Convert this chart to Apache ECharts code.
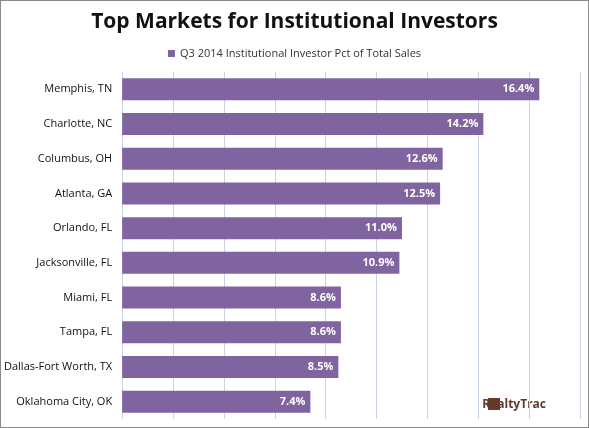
<!DOCTYPE html><html><head><meta charset="utf-8"><script src="https://cdn.jsdelivr.net/npm/echarts@6/dist/echarts.min.js"></script>
<style>html,body{margin:0;padding:0;background:#fff}#c{width:587px;height:426px;border:1px solid #8a8a8a}</style></head><body><div id="c"></div><script>
const categories=["Memphis, TN","Charlotte, NC","Columbus, OH","Atlanta, GA","Orlando, FL","Jacksonville, FL","Miami, FL","Tampa, FL","Dallas-Fort Worth, TX","Oklahoma City, OK"];
const values=[16.4,14.2,12.6,12.5,11.0,10.9,8.6,8.6,8.5,7.4];
const seriesName="Q3 2014 Institutional Investor Pct of Total Sales";
const c=echarts.init(document.getElementById('c'));
c.setOption({animation:false,
title:{text:"Top Markets for Institutional Investors",left:'center',top:6,textStyle:{fontFamily:'Open Sans',fontWeight:'bold',fontSize:21,color:'#111'}},
legend:{top:42,left:'center',itemWidth:7,itemHeight:7,icon:'rect',textStyle:{fontFamily:'Open Sans',fontSize:11,color:'#333'},data:[seriesName]},
grid:{left:121,right:8,top:71,bottom:8},
xAxis:{type:'value',min:0,max:18,interval:2,axisLabel:{show:false},axisLine:{show:false},axisTick:{show:false},splitLine:{lineStyle:{color:'#c9d3e6'}}},
yAxis:{type:'category',inverse:true,data:categories,axisTick:{show:false},axisLine:{show:false},axisLabel:{fontFamily:'Open Sans',fontSize:11,color:'#111',margin:10}},
series:[{name:seriesName,type:'bar',data:values,barWidth:22,itemStyle:{color:'#7f64a0'},label:{show:true,position:'insideRight',formatter:p=>p.value.toFixed(1)+'%',color:'#fff',fontWeight:'bold',fontFamily:'Open Sans',fontSize:11}}],
graphic:[{type:'rect',right:88,bottom:17,shape:{width:12,height:12},style:{fill:'#6b3a2a'}},{type:'text',right:42,bottom:16,style:{text:'RealtyTrac',font:'bold 12px Open Sans',fill:'#5a3a2f'}}]
});
</script></body></html>
